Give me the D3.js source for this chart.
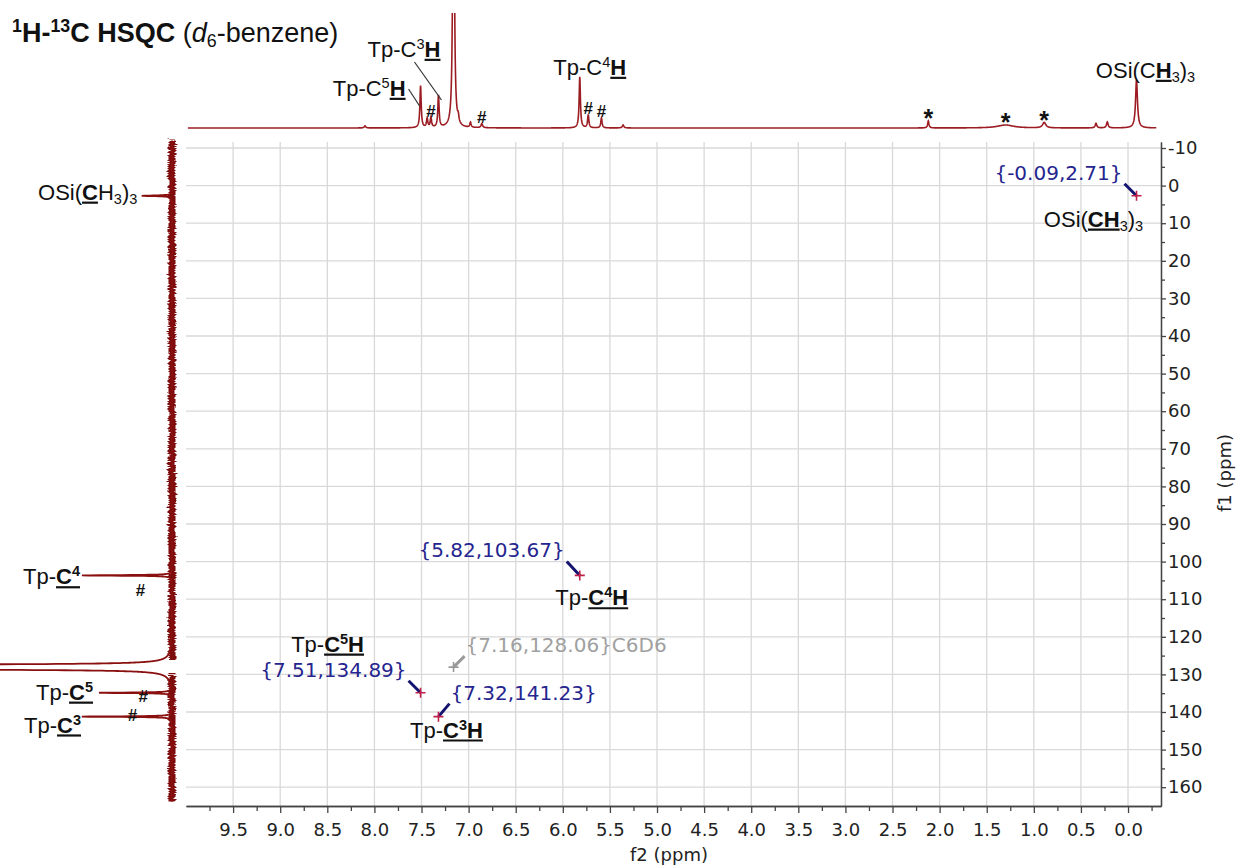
<!DOCTYPE html>
<meta charset="utf-8">
<style>
body { margin: 0; background: #fff; }
svg { display: block; }
.grid line { stroke: #d9d9d9; stroke-width: 1.3px; }
.axis path, .axis line { stroke: #444; stroke-width: 1.3px; }
.axis text { font-family: "DejaVu Sans"; font-size: 18px; fill: #222; }
.lbl { font-family: "Liberation Sans", Arial; font-size: 22px; fill: #111; }
.ann { font-family: "DejaVu Sans"; font-size: 20px; fill: #25258f; }
</style>
<svg width="1242" height="866"></svg>
<script src="https://d3js.org/d3.v7.min.js"></script>
<script>

// axis ticks (ppm)
var f2Labels = [9.5, 9.0, 8.5, 8.0, 7.5, 7.0, 6.5, 6.0, 5.5, 5.0, 4.5, 4.0, 3.5, 3.0, 2.5, 2.0, 1.5, 1.0, 0.5, 0.0];
var f2Minor = [9.75, 9.25, 8.75, 8.25, 7.75, 7.25, 6.75, 6.25, 5.75, 5.25, 4.75, 4.25, 3.75, 3.25, 2.75, 2.25, 1.75, 1.25, 0.75, 0.25, -0.25];
var f1Labels = [-10, 0, 10, 20, 30, 40, 50, 60, 70, 80, 90, 100, 110, 120, 130, 140, 150, 160];
var f1Minor = [-5, 5, 15, 25, 35, 45, 55, 65, 75, 85, 95, 105, 115, 125, 135, 145, 155];

// HSQC cross peaks {1H, 13C}
var crossH = [-0.09, 5.82, 7.51, 7.32, 7.16];
var crossC = [2.71, 103.67, 134.89, 141.23, 128.06];
var crossSolvent = [false, false, false, false, true];

// 1H projection (top): position, height, half width, mark
var hPpm =    [8.10, 7.51, 7.44, 7.40, 7.32, 7.16, 7.11, 6.98, 6.86, 5.82, 5.73, 5.59, 5.36, 2.12, 1.30, 0.89, 0.34, 0.22, -0.09];
var hHeight = [2, 42, 9, 10, 32, 420, 6, 5, 4, 51, 13, 10, 3, 7, 3, 5.5, 4.5, 6, 48];
var hWidth =  [0.01, 0.008, 0.008, 0.008, 0.008, 0.008, 0.008, 0.008, 0.01, 0.008, 0.008, 0.008, 0.01, 0.008, 0.1, 0.02, 0.01, 0.01, 0.012];
var hMark =   ["", "", "", "#", "", "", "", "", "#", "", "#", "#", "", "*", "*", "*", "", "", ""];

// 13C projection (left): position, height, half width
var cPpm =    [2.71, 103.67, 127.65, 128.45, 134.89, 141.23];
var cHeight = [33, 100, 6000, 6000, 80, 100];
var cWidth =  [0.12, 0.1, 0.06, 0.06, 0.1, 0.1];

var svg = d3.select("svg");

var x = d3.scaleLinear().domain([10.0, -0.35]).range([186, 1161]);
var y = d3.scaleLinear().domain([-11.6, 165]).range([142, 806]);
var topI = d3.scaleLinear().domain([0, 100]).range([128, 28]);
var leftI = d3.scaleLinear().domain([0, 100]).range([172, 82]);

var defs = svg.append("defs");
defs.append("clipPath").attr("id", "topclip")
  .append("rect").attr("x", 0).attr("y", 13).attr("width", 1242).attr("height", 140);
var f = defs.append("filter").attr("id", "rough").attr("filterUnits", "userSpaceOnUse")
  .attr("x", 140).attr("y", 120).attr("width", 70).attr("height", 710);
f.append("feTurbulence").attr("type", "fractalNoise").attr("baseFrequency", "0.05 1.1")
  .attr("numOctaves", 2).attr("seed", 4).attr("result", "n");
f.append("feDisplacementMap").attr("in", "SourceGraphic").attr("in2", "n")
  .attr("scale", 6).attr("xChannelSelector", "R").attr("yChannelSelector", "G");

// grid
var grid = svg.append("g").attr("class", "grid");
grid.selectAll(".v").data(f2Labels).enter().append("line")
  .attr("x1", d => x(d)).attr("x2", d => x(d))
  .attr("y1", y.range()[0]).attr("y2", y.range()[1]);
grid.selectAll(".h").data(f1Labels).enter().append("line")
  .attr("x1", x.range()[0]).attr("x2", x.range()[1])
  .attr("y1", d => y(d)).attr("y2", d => y(d));

// axes
svg.append("g").attr("class", "axis").attr("transform", "translate(0," + y.range()[1] + ")")
  .call(d3.axisBottom(x).tickValues(f2Labels).tickFormat(d3.format(".1f")).tickSize(7).tickSizeOuter(0).tickPadding(10));
svg.append("g").attr("class", "axis").attr("transform", "translate(0," + y.range()[1] + ")")
  .call(d3.axisBottom(x).tickValues(f2Minor).tickFormat("").tickSize(5).tickSizeOuter(0));
svg.append("g").attr("class", "axis").attr("transform", "translate(" + x.range()[1] + ",0)")
  .call(d3.axisRight(y).tickValues(f1Labels).tickFormat(d => String(d)).tickSize(5).tickSizeOuter(0).tickPadding(2));
svg.append("g").attr("class", "axis").attr("transform", "translate(" + x.range()[1] + ",0)")
  .call(d3.axisRight(y).tickValues(f1Minor).tickFormat("").tickSize(4).tickSizeOuter(0));

svg.append("text").attr("x", 669).attr("y", 861)
  .attr("text-anchor", "middle").style("font-family", "DejaVu Sans").style("font-size", "18px").attr("fill", "#222")
  .text("f2 (ppm)");
svg.append("text").attr("transform", "translate(1231,473) rotate(-90)")
  .attr("text-anchor", "middle").style("font-family", "DejaVu Sans").style("font-size", "18px").attr("fill", "#222")
  .text("f1 (ppm)");

// rich text helper: segments with bold / italic / sup / sub / underline
function rich(parent, px, py, segs, cls, anchor, size) {
  var t = parent.append("text").attr("class", cls).attr("x", px).attr("y", py)
    .attr("text-anchor", anchor || "start");
  if (size) t.style("font-size", size + "px");
  var fs = parseFloat(getComputedStyle(t.node()).fontSize);
  var shift = 0, idx = 0, ranges = [], cur = null;
  segs.forEach(function(s) {
    var target = s.sup ? -0.36 * fs : s.sub ? 0.2 * fs : 0;
    var sp = t.append("tspan").text(s.t).attr("dy", target - shift);
    shift = target;
    if (s.sup || s.sub) sp.style("font-size", (0.66 * fs) + "px");
    if (s.b) sp.style("font-weight", "bold");
    if (s.i) sp.style("font-style", "italic");
    if (s.u) {
      if (cur && cur[1] === idx) cur[1] = idx + s.t.length;
      else { cur = [idx, idx + s.t.length]; ranges.push(cur); }
    }
    idx += s.t.length;
  });
  var node = t.node();
  ranges.forEach(function(r) {
    var a = node.getStartPositionOfChar(r[0]).x;
    var b = node.getEndPositionOfChar(r[1] - 1).x;
    parent.append("line").attr("x1", a).attr("x2", b)
      .attr("y1", py + 0.13 * fs).attr("y2", py + 0.13 * fs)
      .attr("stroke", "#111").attr("stroke-width", 0.1 * fs);
  });
  return t;
}

// title
rich(svg, 12, 42, [
  {t: "1", sup: 1, b: 1}, {t: "H-", b: 1}, {t: "13", sup: 1, b: 1}, {t: "C HSQC", b: 1},
  {t: " ("}, {t: "d", i: 1}, {t: "6", sub: 1}, {t: "-benzene)"}
], "lbl", "start", 27);

// top 1H projection
function shape(pos, hs, ws) {
  return function(v) {
    var s = 0;
    for (var i = 0; i < pos.length; i++) {
      var d = (v - pos[i]) / ws[i];
      s += hs[i] / (1 + d * d);
    }
    return s;
  };
}
var hShape = shape(hPpm, hHeight, hWidth);
var hGrid = d3.range(9.98, -0.30, -0.002);
svg.append("path").attr("clip-path", "url(#topclip)")
  .attr("d", d3.line().x(d => x(d)).y(d => topI(hShape(d)))(hGrid))
  .attr("fill", "none").attr("stroke", "#9b1c22").attr("stroke-width", 1.6);

// marks (# impurity, * grease) above peaks
hPpm.forEach(function(p, i) {
  if (!hMark[i]) return;
  var star = hMark[i] === "*";
  svg.append("text").attr("x", x(p)).attr("y", topI(hHeight[i]) - (star ? -6 : 1))
    .attr("text-anchor", "middle").style("font-family", "Liberation Sans")
    .style("font-weight", "bold").style("font-size", star ? "25px" : "17px").attr("fill", "#111")
    .text(hMark[i]);
});

// top labels
function topLabel(idx, dx, by, segs, anchor) {
  return rich(svg, x(hPpm[idx]) + dx, by, segs, "lbl", anchor);
}
topLabel(4, 2, 57, [{t: "Tp-C"}, {t: "3", sup: 1}, {t: "H", b: 1, u: 1}], "end");
topLabel(1, -15, 96, [{t: "Tp-C"}, {t: "5", sup: 1}, {t: "H", b: 1, u: 1}], "end");
topLabel(9, 10, 75, [{t: "Tp-C"}, {t: "4", sup: 1}, {t: "H", b: 1, u: 1}], "middle");
topLabel(18, 9, 78, [{t: "OSi(C"}, {t: "H", b: 1, u: 1}, {t: "3", sub: 1}, {t: ")"}, {t: "3", sub: 1}], "middle");
svg.append("line").attr("x1", x(hPpm[4]) - 24).attr("y1", 62).attr("x2", x(hPpm[4]) + 3).attr("y2", topI(hHeight[4]) + 4)
  .attr("stroke", "#333").attr("stroke-width", 1.2);
svg.append("line").attr("x1", x(hPpm[1]) - 12).attr("y1", 89).attr("x2", x(hPpm[1]) - 1).attr("y2", 106)
  .attr("stroke", "#333").attr("stroke-width", 1.2);

// left 13C projection: noisy baseline band, then the trace
var cShape = shape(cPpm, cHeight, cWidth);
var cGrid = d3.range(-12, 163.8, 0.02);
[[-12, 126.3], [129.8, 163.8]].forEach(function(seg) {
  svg.append("line").attr("filter", "url(#rough)")
    .attr("x1", leftI(0)).attr("x2", leftI(0)).attr("y1", y(seg[0])).attr("y2", y(seg[1]))
    .attr("stroke", "#7d0a0a").attr("stroke-width", 7);
});
svg.append("path")
  .attr("d", d3.line().x(d => leftI(cShape(d))).y(d => y(d))(cGrid))
  .attr("fill", "none").attr("stroke", "#8a1010").attr("stroke-width", 1.8);

// left labels
rich(svg, leftI(cHeight[0]) - 5, y(cPpm[0]) + 4,
  [{t: "OSi("}, {t: "C", b: 1, u: 1}, {t: "H"}, {t: "3", sub: 1}, {t: ")"}, {t: "3", sub: 1}], "lbl", "end");
rich(svg, leftI(cHeight[1]) - 2, y(cPpm[1]) + 9,
  [{t: "Tp-"}, {t: "C", b: 1, u: 1}, {t: "4", sup: 1, b: 1, u: 1}], "lbl", "end");
rich(svg, leftI(cHeight[4]) - 7, y(cPpm[4]) + 7,
  [{t: "Tp-"}, {t: "C", b: 1, u: 1}, {t: "5", sup: 1, b: 1, u: 1}], "lbl", "end");
rich(svg, leftI(cHeight[5]) - 1, y(cPpm[5]) + 16,
  [{t: "Tp-"}, {t: "C", b: 1, u: 1}, {t: "3", sup: 1, b: 1, u: 1}], "lbl", "end");
[[35, 107.5], [32, 135.8], [44, 140.9]].forEach(function(m) {
  svg.append("text").attr("x", leftI(m[0])).attr("y", y(m[1]) + 6).attr("text-anchor", "middle")
    .style("font-family", "Liberation Sans").style("font-weight", "bold").style("font-size", "17px")
    .attr("fill", "#111").text("#");
});

// cross peaks with coordinate annotations
var annLayout = [
  {tx: -14, ty: -16, anchor: "end", lx: -43, ly: 31, lanchor: "middle",
   name: [{t: "OSi("}, {t: "CH", b: 1, u: 1}, {t: "3", sub: 1}, {t: ")"}, {t: "3", sub: 1}]},
  {tx: -15, ty: -18, anchor: "end", lx: 12, ly: 30, lanchor: "middle",
   name: [{t: "Tp-"}, {t: "C", b: 1, u: 1}, {t: "4", sup: 1, b: 1, u: 1}, {t: "H", b: 1, u: 1}]},
  {tx: -14, ty: -16, anchor: "end", lx: -93, ly: -41, lanchor: "middle",
   name: [{t: "Tp-"}, {t: "C", b: 1, u: 1}, {t: "5", sup: 1, b: 1, u: 1}, {t: "H", b: 1, u: 1}]},
  {tx: 12, ty: -17, anchor: "start", lx: 8, ly: 21, lanchor: "middle",
   name: [{t: "Tp-"}, {t: "C", b: 1, u: 1}, {t: "3", sup: 1, b: 1, u: 1}, {t: "H", b: 1, u: 1}]},
  {tx: 12, ty: -15, anchor: "start", lx: 0, ly: 0, lanchor: null, name: null}
];
var fmt = d => d.toFixed(2);
crossH.forEach(function(h, i) {
  var px = x(h), py = y(crossC[i]), L = annLayout[i];
  var solv = crossSolvent[i];
  var lead = solv ? "#9a9a9a" : "#141470";
  var sx = L.anchor === "end" ? px + L.tx + 2 : px + L.tx - 1;
  svg.append("line").attr("x1", sx).attr("y1", py + L.ty + 4).attr("x2", px).attr("y2", py)
    .attr("stroke", lead).attr("stroke-width", 3);
  svg.append("path").attr("d", "M" + (px - 5) + "," + py + "H" + (px + 5) + "M" + px + "," + (py - 5) + "V" + (py + 5))
    .attr("stroke", solv ? "#999" : "#c0204a").attr("stroke-width", 1.6);
  var txt = "{" + fmt(h) + "," + fmt(crossC[i]) + "}" + (solv ? "C6D6" : "");
  svg.append("text").attr("class", "ann").attr("x", px + L.tx).attr("y", py + L.ty)
    .attr("text-anchor", L.anchor).style("fill", solv ? "#a0a0a0" : null).text(txt);
  if (L.name) rich(svg, px + L.lx, py + L.ly, L.name, "lbl", L.lanchor);
});

</script>
